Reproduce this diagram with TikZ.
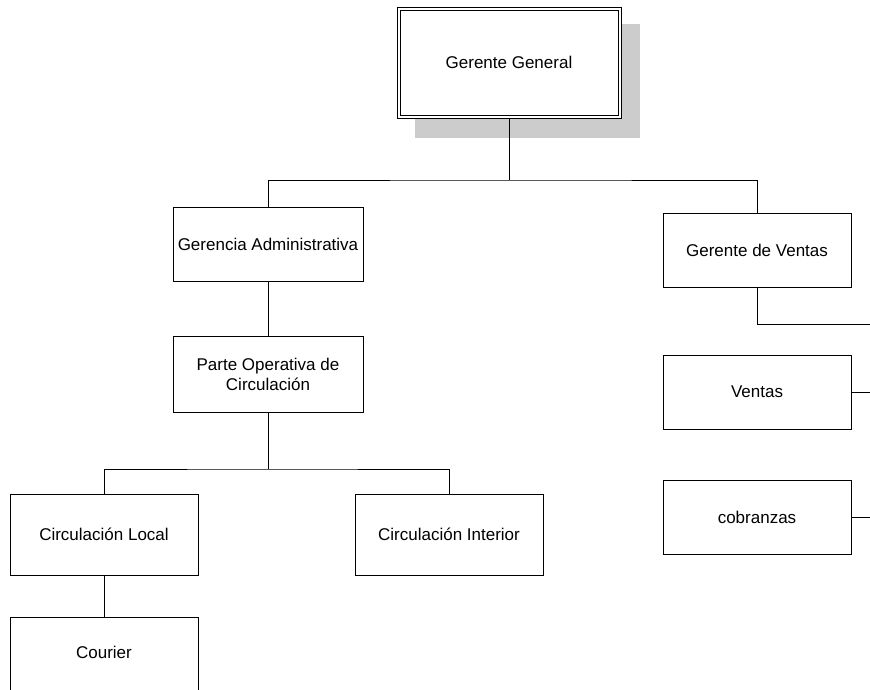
\documentclass[tikz,border=0pt]{standalone}
\usepackage{fontspec}
\setmainfont{Liberation Sans}
\begin{document}
\begin{tikzpicture}[x=1pt,y=-1pt,
  every node/.style={font=\fontsize{17}{20}\selectfont},
  box/.style={draw=black, line width=0.9pt, fill=white, inner sep=0pt, align=center},
  wire/.style={draw=black, line width=0.9pt},
  shade/.style={fill=black!20}]
\useasboundingbox (0,0) rectangle (870,689);
\clip (0,0) rectangle (870,689);

% top box: drop shadow, outer frame and inner frame
\fill[shade] (415,24) rectangle (640,138);
\node[box, minimum width=224pt, minimum height=111pt] (gg) at (509,62.5) {Gerente General};
\draw[line width=0.9pt] ([shift={(3.5pt,-4pt)}]gg.north west) rectangle ([shift={(-3.5pt,3pt)}]gg.south east);

% second level
\node[box, minimum width=190pt, minimum height=74pt] (ga) at (268,244) {Gerencia Administrativa};
\node[box, minimum width=188pt, minimum height=74pt] (gv) at (757,250) {Gerente de Ventas};

% administrative branch
\node[box, minimum width=190pt, minimum height=76pt] (po) at (268,374) {Parte Operativa de\\[0pt]Circulación};
\node[box, minimum width=188pt, minimum height=81pt] (cl) at (104,534.5) {Circulación Local};
\node[box, minimum width=188pt, minimum height=81pt] (ci) at (449,534.5) {Circulación Interior};
\node[box, minimum width=188pt, minimum height=84pt, anchor=north] (co) at (104,617) {};
\node (colabel) at (104,652) {Courier};

% sales branch
\node[box, minimum width=188pt, minimum height=74pt] (ve) at (757,392) {Ventas};
\node[box, minimum width=188pt, minimum height=74pt] (cb) at (757,517) {cobranzas};

% junctions and free ends at the right edge
\coordinate (j1) at (509,180);
\coordinate (j2) at (268,469);
\coordinate (e1) at (870,324);
\coordinate (e2) at (870,392);
\coordinate (e3) at (870,517);

% connectors
\draw[wire] (gg.south) -- (j1);
\draw[wire] (ga.north) |- (j1) -| (gv.north);
\draw[wire] (ga.south) -- (po.north);
\draw[wire] (po.south) -- (j2);
\draw[wire] (cl.north) |- (j2) -| (ci.north);
\draw[wire] (cl.south) -- (co.north);
\draw[wire] (gv.south) |- (e1);
\draw[wire] (ve.east) -- (e2);
\draw[wire] (cb.east) -- (e3);
\end{tikzpicture}
\end{document}
